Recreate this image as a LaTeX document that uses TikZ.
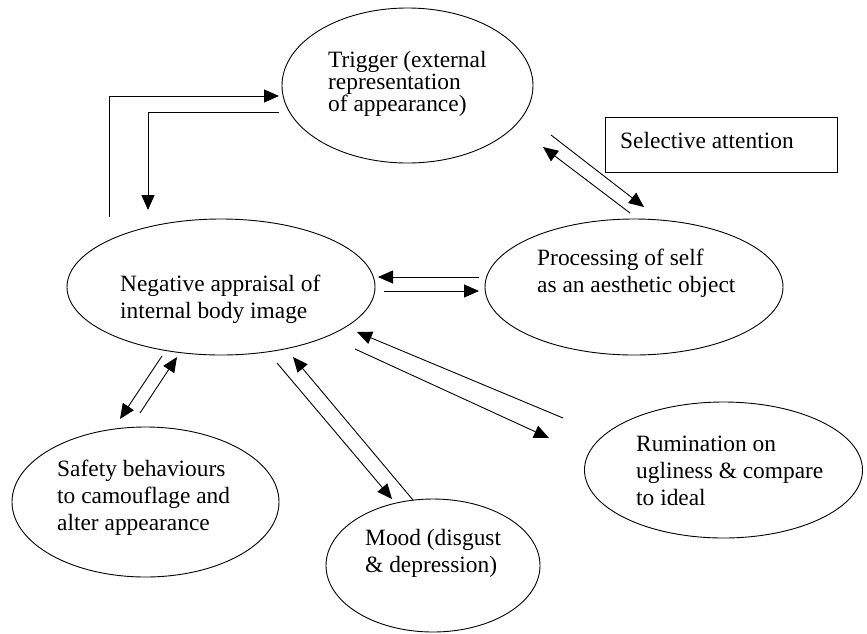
\documentclass[tikz,border=0pt]{standalone}
\usepackage{fontspec}
\setmainfont{Liberation Serif}
\usetikzlibrary{shapes.geometric,arrows.meta}
\lineskiplimit=-100pt
\begin{document}
\begin{tikzpicture}[x=1pt,y=-1pt,
  oval/.style={draw, ellipse, line width=0.9pt, inner sep=0pt},
  lbl/.style={anchor=base west, align=left, inner sep=0pt,
    font=\fontsize{23.4}{26.7}\selectfont},
  tightlbl/.style={lbl, font=\fontsize{23.4}{21.6}\selectfont},
  conn/.style={line width=0.9pt},
  arr/.style={conn, -{Triangle[length=15pt,width=13pt]}}]
\useasboundingbox (0,0) rectangle (867,633);

% ovals
\node[oval, minimum width=251, minimum height=155] (trig) at (407.5,85.5) {};
\node[oval, minimum width=308, minimum height=136] (neg) at (221,287) {};
\node[oval, minimum width=298, minimum height=136] (proc) at (634,287) {};
\node[oval, minimum width=267, minimum height=150] (safe) at (145.5,502) {};
\node[oval, minimum width=214, minimum height=133] (mood) at (433,565.5) {};
\node[oval, minimum width=278, minimum height=136] (rum) at (723.5,470) {};
\node[draw, line width=0.9pt, minimum width=232, minimum height=55, inner sep=0pt] (sel) at (721,144.5) {};

% texts (anchored at the baseline of the last line)
\node[tightlbl] (trigtxt) at (328,111) {Trigger (external\\representation\\of appearance)};
\node[lbl] (negtxt) at (120,318) {Negative appraisal of\\internal body image};
\node[lbl] (proctxt) at (537,292) {Processing of self\\as an aesthetic object};
\node[lbl] (seltxt) at (620,148) {Selective attention};
\node[lbl] (safetxt) at (57,530) {Safety behaviours\\to camouflage and\\alter appearance};
\node[lbl] (moodtxt) at (365,572) {Mood (disgust\\\& depression)};
\node[lbl] (rumtxt) at (636,505) {Rumination on\\ugliness \& compare\\to ideal};

% connector end points
\coordinate (nt0) at (109,217);
\coordinate (nt1) at (109,96);
\coordinate (nt2) at (279,96);
\coordinate (tn0) at (279,112);
\coordinate (tn1) at (148,112);
\coordinate (tn2) at (148,210);

\coordinate (pt0) at (630,213);
\coordinate (pt1) at (543,147);
\coordinate (tp0) at (551,135);
\coordinate (tp1) at (644,207);

\coordinate (pn0) at (479,277);
\coordinate (pn1) at (378,277);
\coordinate (np0) at (384,291);
\coordinate (np1) at (479,291);

\coordinate (ns0) at (162,356);
\coordinate (ns1) at (120,419);
\coordinate (sn0) at (140,413);
\coordinate (sn1) at (177,357);

\coordinate (nm0) at (277,363);
\coordinate (nm1) at (392,499);
\coordinate (mn0) at (413,500);
\coordinate (mn1) at (293,357);

\coordinate (rn0) at (563,418);
\coordinate (rn1) at (357,332);
\coordinate (nr0) at (355,349);
\coordinate (nr1) at (549,438);

% connectors
\draw[arr] (nt0) -- (nt1) -- (nt2);
\draw[arr] (tn0) -- (tn1) -- (tn2);
\draw[arr] (pt0) -- (pt1);
\draw[arr] (tp0) -- (tp1);
\draw[arr] (pn0) -- (pn1);
\draw[arr] (np0) -- (np1);
\draw[arr] (ns0) -- (ns1);
\draw[arr] (sn0) -- (sn1);
\draw[arr] (nm0) -- (nm1);
\draw[arr] (mn0) -- (mn1);
\draw[arr] (rn0) -- (rn1);
\draw[arr] (nr0) -- (nr1);
\end{tikzpicture}
\end{document}
